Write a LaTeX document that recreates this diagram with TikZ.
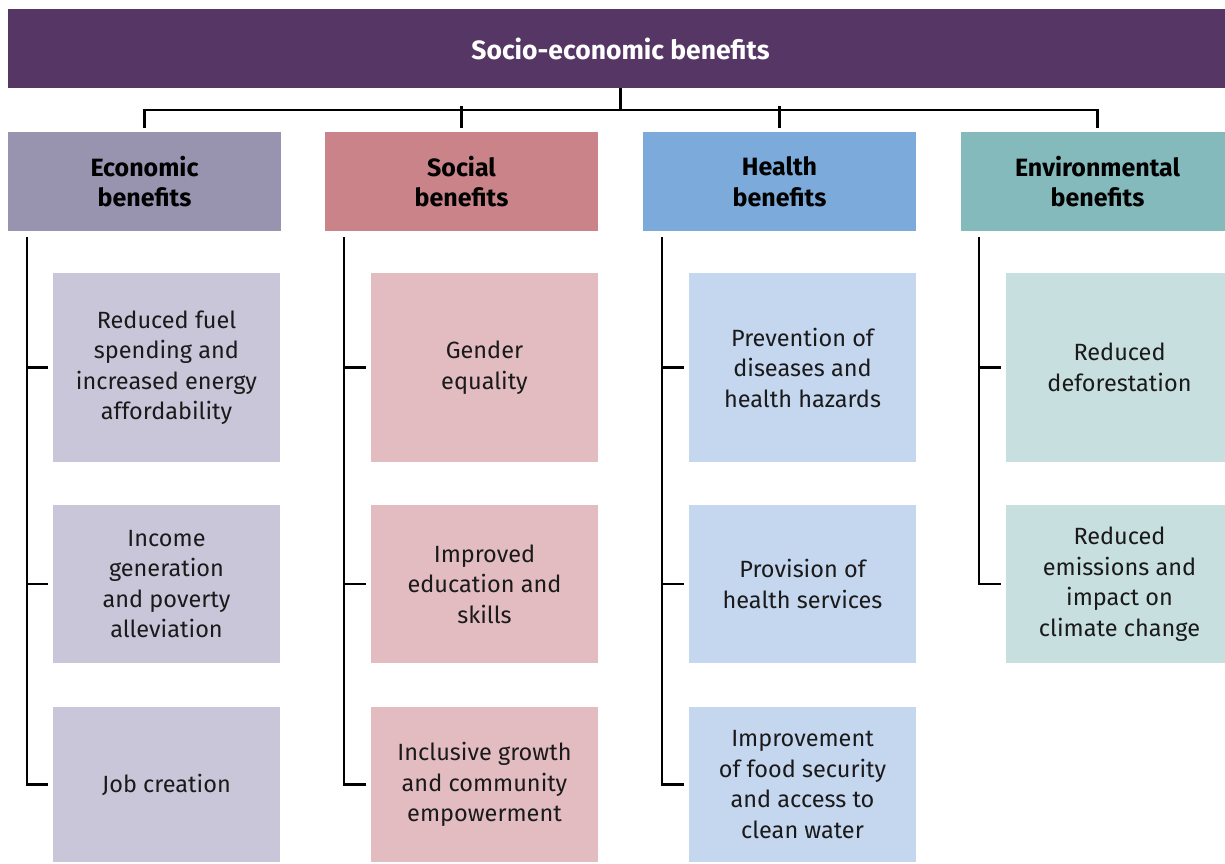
\documentclass[tikz,border=0pt]{standalone}
\usepackage{fontspec}
\setmainfont{Fira Sans}
\definecolor{topc}{HTML}{553664}
\definecolor{econ}{HTML}{9894B0}
\definecolor{econl}{HTML}{C9C6D9}
\definecolor{soc}{HTML}{C98389}
\definecolor{socl}{HTML}{E2BCC1}
\definecolor{hea}{HTML}{7BAADB}
\definecolor{heal}{HTML}{C5D6EF}
\definecolor{env}{HTML}{84BABB}
\definecolor{envl}{HTML}{C8DFE0}
\definecolor{txt}{HTML}{1A1A1A}
\begin{document}
\begin{tikzpicture}[x=1pt,y=-1pt,
  catbox/.style={rectangle, draw=none, minimum width=273pt, minimum height=99pt, inner sep=0pt,
    align=center, font=\fontsize{25}{30.5}\selectfont\bfseries, text=black},
  subbox/.style={rectangle, draw=none, minimum width=227pt, inner sep=0pt,
    align=center, font=\fontsize{23.5}{30.5}\selectfont, text=txt},
  conn/.style={draw=black, line width=2.4pt},
]
\useasboundingbox (0,0) rectangle (1225,863);
% title
\node (top) [rectangle, fill=topc, minimum width=1225pt, minimum height=79pt, inner sep=0pt,
  text=white, font=\fontsize{26.5}{30}\selectfont\bfseries] at (620.5,48.5) {Socio-economic benefits};
% categories
\node (ec) [catbox, fill=econ] at (144.5,181.5) {Economic\\benefits};
\node (so) [catbox, fill=soc] at (461.5,181.5) {Social\\benefits};
\node (he) [catbox, fill=hea] at (779.5,181.5) {Health\\benefits};
\node (en) [catbox, fill=env] at (1097.5,181.5) {Environmental\\benefits};
% economic subs
\node (e1) [subbox, fill=econl, minimum height=189pt] at (166.5,367.5) {Reduced fuel\\spending and\\increased energy\\affordability};
\node (e2) [subbox, fill=econl, minimum height=158pt] at (166.5,584) {Income\\generation\\and poverty\\alleviation};
\node (e3) [subbox, fill=econl, minimum height=155pt] at (166.5,784.5) {Job creation};
% social subs
\node (s1) [subbox, fill=socl, minimum height=189pt] at (484.5,367.5) {Gender\\equality};
\node (s2) [subbox, fill=socl, minimum height=158pt] at (484.5,584) {Improved\\education and\\skills};
\node (s3) [subbox, fill=socl, minimum height=155pt] at (484.5,784.5) {Inclusive growth\\and community\\empowerment};
% health subs
\node (h1) [subbox, fill=heal, minimum height=189pt] at (802.5,367.5) {Prevention of\\diseases and\\health hazards};
\node (h2) [subbox, fill=heal, minimum height=158pt] at (802.5,584) {Provision of\\health services};
\node (h3) [subbox, fill=heal, minimum height=155pt] at (802.5,784.5) {Improvement\\of food security\\and access to\\clean water};
% environmental subs
\node (n1) [subbox, fill=envl, minimum height=189pt] at (1119.5,367.5) {Reduced\\deforestation};
\node (n2) [subbox, fill=envl, minimum height=158pt] at (1119.5,584) {Reduced\\emissions and\\impact on\\climate change};
% top connectors
\coordinate (hub) at ([yshift=-22pt]top.south);
\draw[conn] (top.south) -- (hub);
\draw[conn] ([yshift=4pt]ec.north) |- (hub) -| ([yshift=4pt]en.north);
\draw[conn] ([yshift=4pt]so.north) -- ([yshift=4pt]so.north |- hub);
\draw[conn] ([yshift=4pt]he.north) -- ([yshift=4pt]he.north |- hub);
% column connectors
\coordinate (ev) at ([xshift=19pt,yshift=-6pt]ec.south west);
\coordinate (sv) at ([xshift=19pt,yshift=-6pt]so.south west);
\coordinate (hv) at ([xshift=19pt,yshift=-6pt]he.south west);
\coordinate (nv) at ([xshift=18pt,yshift=-6pt]en.south west);
\draw[conn] (ev) |- ([xshift=-5pt]e3.west);
\draw[conn] ([xshift=-5pt]e1.west) -- (ev |- e1.west);
\draw[conn] ([xshift=-5pt]e2.west) -- (ev |- e2.west);
\draw[conn] (sv) |- ([xshift=-5pt]s3.west);
\draw[conn] ([xshift=-5pt]s1.west) -- (sv |- s1.west);
\draw[conn] ([xshift=-5pt]s2.west) -- (sv |- s2.west);
\draw[conn] (hv) |- ([xshift=-5pt]h3.west);
\draw[conn] ([xshift=-5pt]h1.west) -- (hv |- h1.west);
\draw[conn] ([xshift=-5pt]h2.west) -- (hv |- h2.west);
\draw[conn] (nv) |- ([xshift=-5pt]n2.west);
\draw[conn] ([xshift=-5pt]n1.west) -- (nv |- n1.west);
\end{tikzpicture}
\end{document}
